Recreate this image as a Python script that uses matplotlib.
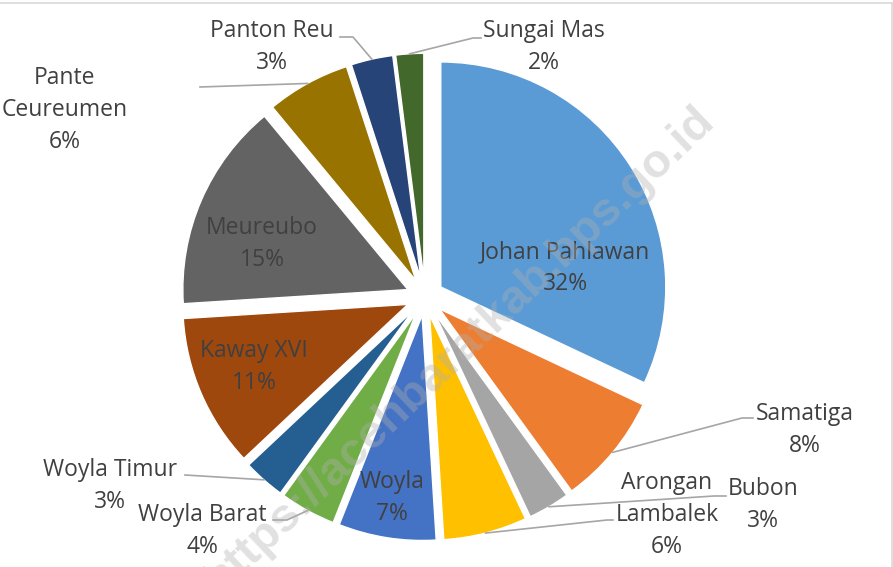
import matplotlib.pyplot as plt
import numpy as np

W, H = 893, 567  # canvas in pixels; the axes use pixel units (y measured from the top via px())

kecamatan = ['Johan Pahlawan', 'Samatiga', 'Bubon', 'Arongan\nLambalek', 'Woyla',
             'Woyla Barat', 'Woyla Timur', 'Kaway XVI', 'Meureubo',
             'Pante\nCeureumen', 'Panton Reu', 'Sungai Mas']
persen = [32, 8, 3, 6, 7, 4, 3, 11, 15, 6, 3, 2]
warna = ['#5B9BD5', '#ED7D31', '#A5A5A5', '#FFC000', '#4472C4', '#70AD47',
         '#255E91', '#9E480E', '#636363', '#997300', '#264478', '#43682B']

# label placement: (text centre, leader points from elbow to text); None = inside label
label_pos = {
    'Johan Pahlawan': ((565, 268), None),
    'Samatiga': ((805, 430), [(742, 418), (753, 418)]),
    'Bubon': ((763, 505), [(714, 496), (726, 496)]),
    'Arongan\nLambalek': ((667, 515), [(607, 520), (613, 520)]),
    'Woyla': ((392, 498), None),
    'Woyla Barat': ((202, 531), [(287, 520), (273, 520)]),
    'Woyla Timur': ((110, 486), [(185, 475)]),
    'Kaway XVI': ((254, 367), None),
    'Meureubo': ((262, 244), None),
    'Pante\nCeureumen': ((65, 110), [(200, 87)]),
    'Panton Reu': ((272, 47), [(353, 37), (340, 37)]),
    'Sungai Mas': ((544, 47), [(473, 38), (481, 38)]),
}


def px(x, y):
    return x, H - y


plt.rcParams['font.family'] = ['Open Sans', 'DejaVu Sans']
text_color = '#404040'

fig = plt.figure(figsize=(W / 100, H / 100), dpi=100)
ax = fig.add_axes([0, 0, 1, 1])

# explode is an offset in data units (pixels here)
wedges, _ = ax.pie(persen, colors=warna, startangle=90, counterclock=False,
                   explode=[18.7] * len(persen), radius=225,
                   center=px(425, 297),
                   wedgeprops=dict(linewidth=1, edgecolor='white'))

for w, name, p in zip(wedges, kecamatan, persen):
    (tx, ty), leader = label_pos[name]
    ax.text(*px(tx, ty), f'{name}\n{p}%', ha='center', va='center',
            fontsize=16.5, color=text_color, linespacing=1.45, zorder=4)
    if leader is None:
        continue
    mid = np.deg2rad((w.theta1 + w.theta2) / 2)
    cx, cy = w.center
    pts = [(cx + w.r * np.cos(mid), cy + w.r * np.sin(mid))]
    pts += [px(x, y) for x, y in leader]
    xs, ys = zip(*pts)
    ax.plot(xs, ys, color='#a6a6a6', linewidth=1.2, zorder=3)

# watermark (runs off the bottom edge, as in the source image)
ax.text(*px(460, 350), 'https://acehbaratkab.bps.go.id', rotation=43.6,
        rotation_mode='anchor', ha='center', va='center', fontsize=34,
        fontweight='bold', family='Liberation Sans', color='#b0b0b0',
        alpha=0.38, zorder=5)

# chart frame (only top and right edges are visible in the crop)
ax.plot([0, W - 1.5], [H - 3, H - 3], color='#d9d9d9', linewidth=1.2)
ax.plot([W - 1.5, W - 1.5], [H - 3, 0], color='#d9d9d9', linewidth=1.2)

ax.set_xlim(0, W)
ax.set_ylim(0, H)
ax.set_aspect('equal')
ax.axis('off')

fig.savefig('out.png', dpi=100)
